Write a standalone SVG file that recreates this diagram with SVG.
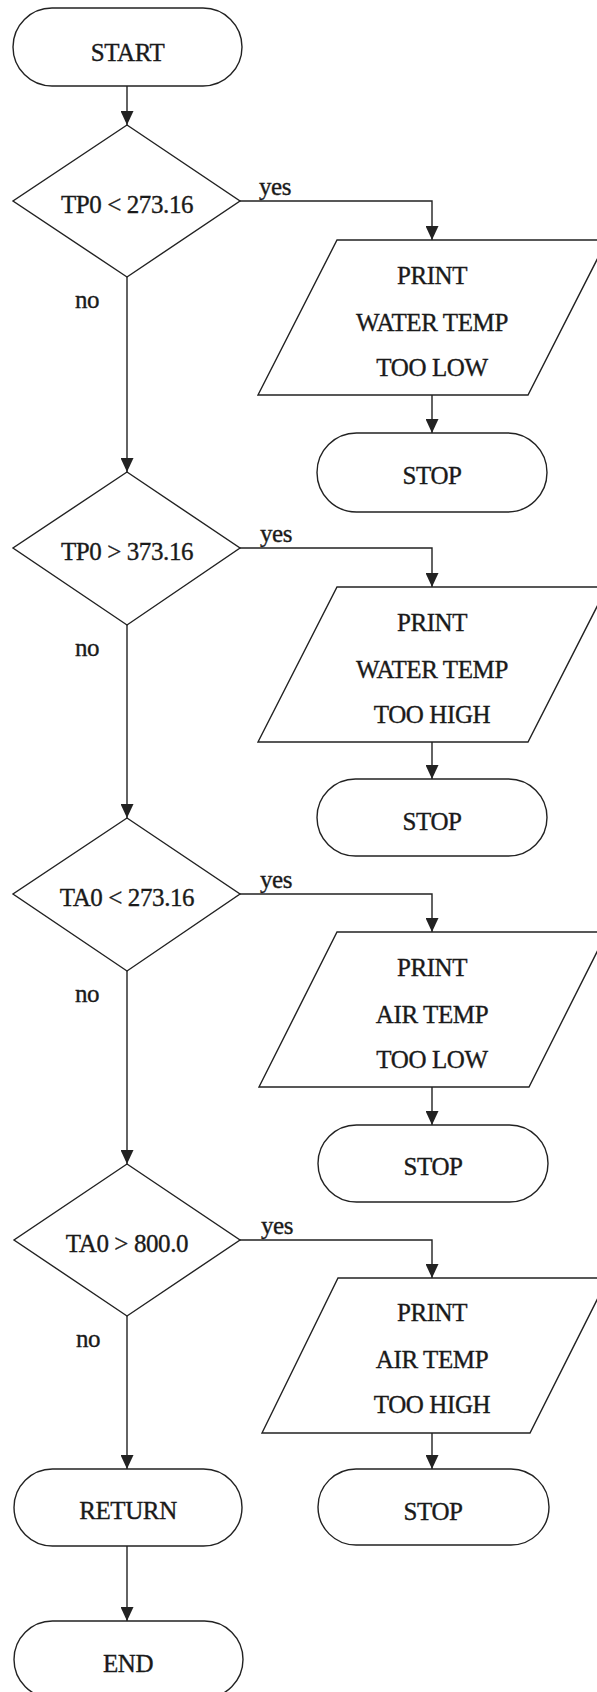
<svg xmlns="http://www.w3.org/2000/svg" width="597" height="1692" viewBox="0 0 597 1692">
<style>
.s{fill:#fff;stroke:#222;stroke-width:1.4}
.c{fill:none;stroke:#222;stroke-width:1.4}
text{font-family:"Liberation Serif","Times New Roman",serif;font-size:25px;letter-spacing:-0.4px;fill:#1a1a1a;stroke:#1a1a1a;stroke-width:0.35}
.m{text-anchor:middle}
</style>
<defs>
<marker id="ah" markerUnits="userSpaceOnUse" markerWidth="14" markerHeight="13" refX="14" refY="6.5" orient="auto">
<path d="M0,0 L14,6.5 L0,13 z" fill="#222"/>
</marker>
</defs>
<rect width="597" height="1692" fill="#fff"/>
<g id="connectors">
<line class="c" x1="127" y1="86" x2="127" y2="125" marker-end="url(#ah)"/>
<line class="c" x1="127" y1="277" x2="127" y2="472" marker-end="url(#ah)"/>
<line class="c" x1="127" y1="625" x2="127" y2="818" marker-end="url(#ah)"/>
<line class="c" x1="127" y1="971" x2="127" y2="1164" marker-end="url(#ah)"/>
<line class="c" x1="127" y1="1316" x2="127" y2="1469" marker-end="url(#ah)"/>
<line class="c" x1="127" y1="1546" x2="127" y2="1621" marker-end="url(#ah)"/>
<polyline class="c" points="240,201 432,201 432,240" marker-end="url(#ah)"/>
<polyline class="c" points="240,548 432,548 432,587" marker-end="url(#ah)"/>
<polyline class="c" points="240,894 432,894 432,932" marker-end="url(#ah)"/>
<polyline class="c" points="240,1240 432,1240 432,1278" marker-end="url(#ah)"/>
<line class="c" x1="432" y1="395" x2="432" y2="433" marker-end="url(#ah)"/>
<line class="c" x1="432" y1="742" x2="432" y2="779" marker-end="url(#ah)"/>
<line class="c" x1="432" y1="1087" x2="432" y2="1125" marker-end="url(#ah)"/>
<line class="c" x1="432" y1="1433" x2="432" y2="1469" marker-end="url(#ah)"/>
<text x="259" y="195">yes</text>
<text x="260" y="542">yes</text>
<text x="260" y="888">yes</text>
<text x="261" y="1234">yes</text>
<text x="75" y="308">no</text>
<text x="75" y="656">no</text>
<text x="75" y="1002">no</text>
<text x="76" y="1347">no</text>
</g>
<g id="start">
<rect class="s" x="13" y="8" width="229" height="78" rx="39"/>
<text class="m" x="127.5" y="61">START</text>
</g>
<g id="d1">
<polygon class="s" points="127,125 240,201 127,277 13,201"/>
<text class="m" x="127" y="213">TP0 &lt; 273.16</text>
</g>
<g id="p1">
<polygon class="s" points="337,240 607,240 528,395 258,395"/>
<text class="m" x="432" y="284">PRINT</text>
<text class="m" x="432" y="331">WATER TEMP</text>
<text class="m" x="432" y="376">TOO LOW</text>
</g>
<g id="stop1">
<rect class="s" x="317" y="433" width="230" height="79" rx="39.5"/>
<text class="m" x="432" y="484">STOP</text>
</g>
<g id="d2">
<polygon class="s" points="127,472 240,548 127,625 13,548"/>
<text class="m" x="127" y="560">TP0 &gt; 373.16</text>
</g>
<g id="p2">
<polygon class="s" points="337,587 607,587 528,742 258,742"/>
<text class="m" x="432" y="631">PRINT</text>
<text class="m" x="432" y="678">WATER TEMP</text>
<text class="m" x="432" y="723">TOO HIGH</text>
</g>
<g id="stop2">
<rect class="s" x="317" y="779" width="230" height="77" rx="38.5"/>
<text class="m" x="432" y="830">STOP</text>
</g>
<g id="d3">
<polygon class="s" points="127,818 240,894 127,971 13,894"/>
<text class="m" x="127" y="906">TA0 &lt; 273.16</text>
</g>
<g id="p3">
<polygon class="s" points="337,932 607,932 529,1087 259,1087"/>
<text class="m" x="432" y="976">PRINT</text>
<text class="m" x="432" y="1023">AIR TEMP</text>
<text class="m" x="432" y="1068">TOO LOW</text>
</g>
<g id="stop3">
<rect class="s" x="318" y="1125" width="230" height="77" rx="38.5"/>
<text class="m" x="433" y="1175">STOP</text>
</g>
<g id="d4">
<polygon class="s" points="127,1164 240,1240 127,1316 14,1240"/>
<text class="m" x="127" y="1252">TA0 &gt; 800.0</text>
</g>
<g id="p4">
<polygon class="s" points="338,1278 608,1278 530,1433 262,1433"/>
<text class="m" x="432" y="1321">PRINT</text>
<text class="m" x="432" y="1368">AIR TEMP</text>
<text class="m" x="432" y="1413">TOO HIGH</text>
</g>
<g id="stop4">
<rect class="s" x="318" y="1469" width="231" height="76" rx="38"/>
<text class="m" x="433" y="1520">STOP</text>
</g>
<g id="return">
<rect class="s" x="14" y="1469" width="228" height="77" rx="38.5"/>
<text class="m" x="128" y="1519">RETURN</text>
</g>
<g id="end">
<rect class="s" x="14" y="1621" width="229" height="77" rx="38.5"/>
<text class="m" x="128" y="1672">END</text>
</g>
</svg>
